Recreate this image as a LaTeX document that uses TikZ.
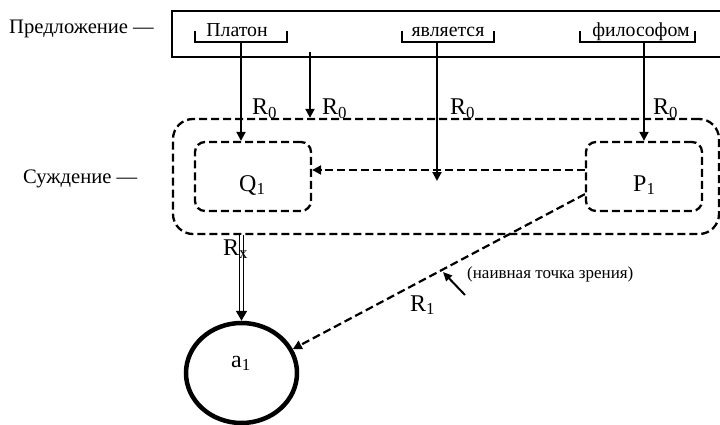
\documentclass[tikz,border=0pt]{standalone}
\usepackage{fontspec}
\setmainfont{Liberation Serif}
\usetikzlibrary{arrows.meta,shapes.geometric}
\begin{document}
\begin{tikzpicture}[x=1pt,y=-1pt,
  txt/.style={inner sep=0pt, anchor=base west, font=\fontsize{20.6}{24}\selectfont},
  word/.style={inner sep=0pt, anchor=base, font=\fontsize{19.8}{23}\selectfont},
  rlbl/.style={inner sep=0pt, anchor=base west, font=\fontsize{24}{28}\selectfont},
  dbox/.style={draw, line width=2.3pt, dash pattern=on 8pt off 4pt, rounded corners=10pt, inner sep=0pt},
  arr/.style={line width=2pt, -{Triangle[width=9pt,length=9pt]}},
  darr/.style={line width=2.2pt, dash pattern=on 8pt off 4pt, -{Triangle[width=9pt,length=9pt]}},
  brk/.style={line width=1.1pt},
]
\useasboundingbox (0,0) rectangle (720,425);

% left labels
\node[txt] (lpred) at (9,34) {Предложение —};
\node[txt] (lsuzh) at (23,183) {Суждение —};

% sentence box
\node[draw, line width=1.2pt, minimum width=552pt, minimum height=46pt, inner sep=0pt] (sent) at (448,34) {};

% words
\node[word] (wPlaton) at (237,37) {Платон};
\node[word] (wYavl) at (448,37) {является};
\node[word] (wFil) at (641,37) {философом};

% brackets
\draw[brk] (195,31) -- (195,42) -- (287,42) -- (287,31);
\draw[brk] (402,31) -- (402,42) -- (494,42) -- (494,31);
\draw[brk] (580,31) -- (580,42) -- (695,42) -- (695,31);
\coordinate (bP) at (241,42);
\coordinate (bY) at (437,42);
\coordinate (bF) at (644,42);
\coordinate (s2) at (310,52);
\coordinate (yEnd) at (437,181);

% judgement boxes
\node[dbox, rounded corners=20pt, minimum width=546pt, minimum height=115pt] (judg) at (446,176.5) {};
\node[dbox, minimum width=116pt, minimum height=69pt] (Q1) at (253,176.5) {};
\node[dbox, minimum width=116pt, minimum height=69pt] (P1) at (644,176.5) {};
\node[rlbl] (Q1l) at (239,191) {Q\textsubscript{1}};
\node[rlbl] (P1l) at (633,191) {P\textsubscript{1}};

% object
\node[draw, ellipse, line width=4.5pt, minimum width=111pt, minimum height=100pt, inner sep=0pt] (a1) at (241.5,373) {};
\node[rlbl] (a1l) at (231,367) {a\textsubscript{1}};

% R0 arrows
\draw[arr] (bP) -- (bP |- Q1.north);
\draw[arr] (s2) -- (s2 |- judg.north);
\draw[arr] (bY) -- (yEnd);
\draw[arr] (bF) -- (bF |- P1.north);
\node[rlbl] (r01) at (252,115) {R\textsubscript{0}};
\node[rlbl] (r02) at (322,115) {R\textsubscript{0}};
\node[rlbl] (r03) at (450,115) {R\textsubscript{0}};
\node[rlbl] (r04) at (653,115) {R\textsubscript{0}};

% P1 -> Q1
\draw[darr] ([yshift=6.5pt]P1.west) -- ([yshift=6.5pt]Q1.east);

% Rx
\draw[double, double distance=2.2pt, line width=1.8pt, -{Triangle[width=11pt,length=10pt]}] (judg.south -| a1) -- (a1.north);
\node[rlbl] (rx) at (223,255) {R\textsubscript{x}};

% R1
\draw[darr] ([yshift=18pt]P1.south west) -- (a1.25);
\node[rlbl] (r1) at (410,311) {R\textsubscript{1}};

% naive view pointer
\coordinate (nvA) at (465,295);
\coordinate (nvB) at (443,272);
\draw[line width=2pt, -{Triangle[width=8pt,length=9pt]}] (nvA) -- (nvB);
\node[inner sep=0pt, anchor=base west, font=\fontsize{17}{20}\selectfont] (naive) at (467,278) {(наивная точка зрения)};
\end{tikzpicture}
\end{document}
